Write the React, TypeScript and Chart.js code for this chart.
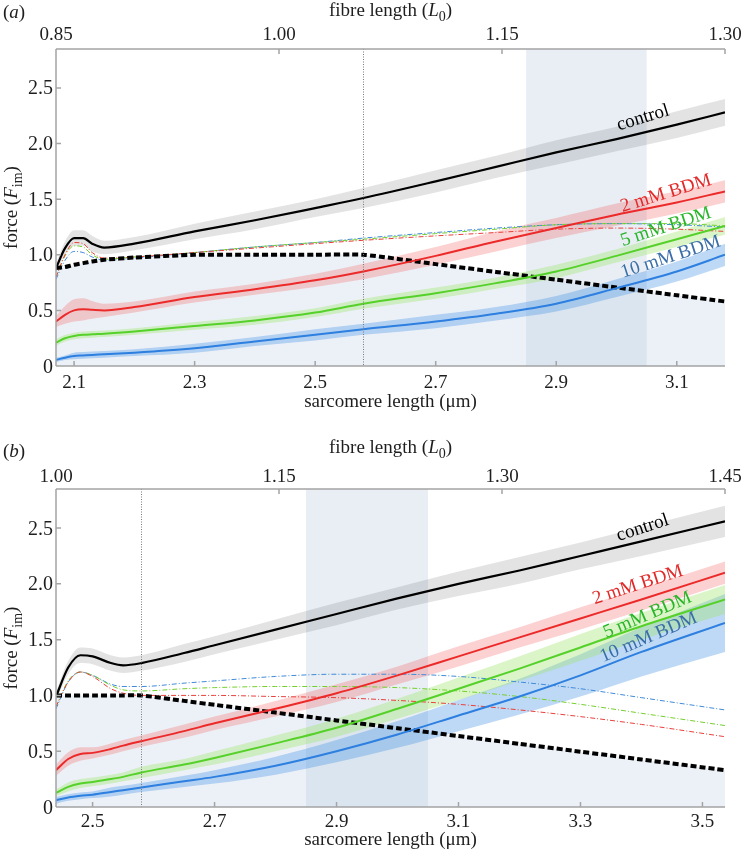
import React, { useEffect, useRef } from 'react';
import { Chart, registerables } from 'chart.js';
Chart.register(...registerables);

const SERIF = '"Liberation Serif", "DejaVu Serif", serif';
const FS = 19;

// ---------- shared ----------
const FORCE_TICKS = [0, 0.5, 1.0, 1.5, 2.0, 2.5];
const OPT_SL = 2.58;
const SHADE_SL = [2.85, 3.05];

// ---------- panel (a) ----------
const SL_A = [2.07, 2.085, 2.1, 2.115, 2.13, 2.15, 2.2, 2.3, 2.4, 2.5, 2.58, 2.7, 2.8, 2.9, 3.0, 3.1, 3.18];
const CONTROL_A = [0.88, 1.06, 1.15, 1.15, 1.1, 1.065, 1.1, 1.21, 1.31, 1.42, 1.51, 1.66, 1.79, 1.92, 2.04, 2.17, 2.28];
const CONTROL_A_SD = [0.04, 0.06, 0.07, 0.07, 0.07, 0.06, 0.06, 0.07, 0.08, 0.08, 0.09, 0.1, 0.1, 0.11, 0.11, 0.12, 0.12];
const BDM2_A = [0.4, 0.46, 0.5, 0.51, 0.505, 0.5, 0.53, 0.62, 0.69, 0.77, 0.85, 0.99, 1.12, 1.24, 1.36, 1.47, 1.57];
const BDM2_A_SD = [0.05, 0.08, 0.1, 0.1, 0.08, 0.06, 0.05, 0.05, 0.05, 0.06, 0.07, 0.08, 0.09, 0.09, 0.1, 0.1, 0.1];
const BDM5_A = [0.21, 0.25, 0.27, 0.28, 0.285, 0.29, 0.31, 0.36, 0.41, 0.48, 0.56, 0.655, 0.745, 0.85, 0.99, 1.14, 1.26];
const BDM5_A_SD = [0.03, 0.03, 0.03, 0.03, 0.03, 0.03, 0.03, 0.035, 0.04, 0.04, 0.045, 0.05, 0.05, 0.06, 0.06, 0.07, 0.08];
const BDM10_A = [0.055, 0.075, 0.09, 0.095, 0.1, 0.105, 0.12, 0.16, 0.22, 0.28, 0.33, 0.4, 0.47, 0.56, 0.7, 0.85, 1.0];
const BDM10_A_SD = [0.02, 0.02, 0.03, 0.03, 0.03, 0.03, 0.03, 0.04, 0.04, 0.05, 0.05, 0.06, 0.06, 0.07, 0.08, 0.09, 0.1];
const RATIO2_A = [0.8, 1.0, 1.11, 1.1, 1.02, 0.97, 0.98, 1.02, 1.06, 1.1, 1.13, 1.17, 1.2, 1.23, 1.24, 1.23, 1.21];
const RATIO5_A = [0.8, 0.99, 1.08, 1.07, 1.0, 0.96, 0.98, 1.02, 1.07, 1.11, 1.14, 1.19, 1.23, 1.27, 1.28, 1.28, 1.26];
const RATIO10_A = [0.78, 0.95, 1.03, 1.02, 0.98, 0.95, 0.97, 1.02, 1.07, 1.11, 1.15, 1.2, 1.24, 1.27, 1.28, 1.27, 1.25];
const FL_CURVE_A = [0.88, 0.89, 0.91, 0.925, 0.94, 0.955, 0.975, 1.0, 1.0, 1.0, 1.0, 0.916, 0.846, 0.776, 0.706, 0.636, 0.58];
const SL_TICKS_A = [2.1, 2.3, 2.5, 2.7, 2.9, 3.1];
const FIBRE_TICKS_A = [0.85, 1.0, 1.15, 1.3];

// ---------- panel (b) ----------
const SL_B = [2.44, 2.46, 2.48, 2.5, 2.53, 2.55, 2.58, 2.65, 2.7, 2.8, 2.9, 3.0, 3.1, 3.2, 3.3, 3.4, 3.537];
const CONTROL_B = [0.99, 1.25, 1.36, 1.35, 1.29, 1.27, 1.29, 1.38, 1.45, 1.59, 1.73, 1.87, 2.0, 2.12, 2.25, 2.38, 2.56];
const CONTROL_B_SD = [0.04, 0.06, 0.07, 0.07, 0.07, 0.07, 0.07, 0.08, 0.08, 0.09, 0.1, 0.1, 0.11, 0.12, 0.12, 0.13, 0.14];
const BDM2_B = [0.33, 0.43, 0.475, 0.485, 0.52, 0.55, 0.59, 0.68, 0.75, 0.88, 1.02, 1.18, 1.35, 1.52, 1.69, 1.86, 2.1];
const BDM2_B_SD = [0.05, 0.06, 0.06, 0.05, 0.05, 0.05, 0.05, 0.06, 0.06, 0.07, 0.08, 0.08, 0.09, 0.09, 0.1, 0.1, 0.1];
const BDM5_B = [0.127, 0.18, 0.21, 0.225, 0.25, 0.27, 0.31, 0.38, 0.44, 0.57, 0.71, 0.88, 1.06, 1.24, 1.43, 1.62, 1.86];
const BDM5_B_SD = [0.03, 0.04, 0.04, 0.04, 0.04, 0.04, 0.05, 0.05, 0.06, 0.07, 0.08, 0.09, 0.1, 0.11, 0.12, 0.12, 0.13];
const BDM10_B = [0.06, 0.085, 0.1, 0.11, 0.135, 0.15, 0.175, 0.23, 0.27, 0.37, 0.5, 0.65, 0.82, 0.99, 1.18, 1.39, 1.65];
const BDM10_B_SD = [0.03, 0.03, 0.03, 0.03, 0.04, 0.04, 0.04, 0.05, 0.06, 0.08, 0.1, 0.12, 0.14, 0.16, 0.19, 0.22, 0.26];
const RATIO2_B = [0.9, 1.12, 1.21, 1.17, 1.06, 1.02, 1.0, 1.0, 1.0, 0.99, 0.98, 0.955, 0.92, 0.87, 0.81, 0.74, 0.63];
const RATIO5_B = [0.9, 1.13, 1.21, 1.18, 1.09, 1.05, 1.04, 1.06, 1.07, 1.08, 1.08, 1.07, 1.04, 0.99, 0.92, 0.84, 0.73];
const RATIO10_B = [0.88, 1.12, 1.21, 1.18, 1.1, 1.08, 1.08, 1.11, 1.13, 1.17, 1.19, 1.19, 1.17, 1.12, 1.06, 0.98, 0.87];
const FL_CURVE_B = [1.0, 1.0, 1.0, 1.0, 1.0, 1.0, 1.0, 0.951, 0.916, 0.846, 0.776, 0.706, 0.636, 0.566, 0.496, 0.426, 0.33];
const SL_TICKS_B = [2.5, 2.7, 2.9, 3.1, 3.3, 3.5];
const FIBRE_TICKS_B = [1.0, 1.15, 1.3, 1.45];

const COLORS = {
  control: '#000000',
  bdm2: '#ec2a2a',
  bdm5: '#55d12a',
  bdm10: '#2d7fe0',
  r2: '#e8403a',
  r5: '#74cf2e',
  r10: '#3f8ad8',
  band0: 'rgba(0,0,0,0.11)',
  band2: 'rgba(245,90,90,0.28)',
  band5: 'rgba(160,230,110,0.38)',
  band10: 'rgba(70,145,230,0.35)',
  under: 'rgba(180,200,222,0.25)',
  shade: 'rgba(160,185,210,0.24)',
  axis: '#a4a4a4',
  text: '#1e1e1e',
  lbl2: '#e12a2a',
  lbl5: '#2ab52a',
  lbl10: '#3a6ea8',
};

const PANEL_A = {
  letter: 'a', height: 420, topH: 49, bottomH: 54, padRight: 17,
  sl: SL_A, slRange: [2.07, 3.18], fibreRange: [0.85, 1.3],
  slTicks: SL_TICKS_A, fibreTicks: FIBRE_TICKS_A,
  control: CONTROL_A, controlSd: CONTROL_A_SD,
  bdm2: BDM2_A, bdm2Sd: BDM2_A_SD, bdm5: BDM5_A, bdm5Sd: BDM5_A_SD, bdm10: BDM10_A, bdm10Sd: BDM10_A_SD,
  r2: RATIO2_A, r5: RATIO5_A, r10: RATIO10_A, fl: FL_CURVE_A,
  letterY: 18, topTitleY: 16, bottomTitleY: 407, topTickY: 40, bottomTickY: 388,
  labels: [
    { text: 'control', x: 3.044, y: 2.23, a: -17, c: COLORS.control },
    { text: '2 mM BDM', x: 3.082, y: 1.55, a: -17, c: COLORS.lbl2 },
    { text: '5 mM BDM', x: 3.082, y: 1.25, a: -18, c: COLORS.lbl5 },
    { text: '10 mM BDM', x: 3.09, y: 0.98, a: -18, c: COLORS.lbl10 },
  ],
};

const PANEL_B = {
  letter: 'b', height: 433, topH: 69, bottomH: 46, padRight: 17,
  sl: SL_B, slRange: [2.44, 3.537], fibreRange: [1.0, 1.45],
  slTicks: SL_TICKS_B, fibreTicks: FIBRE_TICKS_B,
  control: CONTROL_B, controlSd: CONTROL_B_SD,
  bdm2: BDM2_B, bdm2Sd: BDM2_B_SD, bdm5: BDM5_B, bdm5Sd: BDM5_B_SD, bdm10: BDM10_B, bdm10Sd: BDM10_B_SD,
  r2: RATIO2_B, r5: RATIO5_B, r10: RATIO10_B, fl: FL_CURVE_B,
  letterY: 37, topTitleY: 33, bottomTitleY: 425, topTickY: 62, bottomTickY: 407,
  labels: [
    { text: 'control', x: 3.402, y: 2.5, a: -18, c: COLORS.control },
    { text: '2 mM BDM', x: 3.394, y: 1.99, a: -18, c: COLORS.lbl2 },
    { text: '5 mM BDM', x: 3.41, y: 1.72, a: -23, c: COLORS.lbl5 },
    { text: '10 mM BDM', x: 3.412, y: 1.52, a: -23, c: COLORS.lbl10 },
  ],
};

type Seg = { t: string; it?: boolean; sub?: boolean };

function drawRich(ctx: CanvasRenderingContext2D, segs: Seg[], cx: number, by: number, size: number) {
  const f = (s: Seg) => `${s.it ? 'italic ' : ''}${s.sub ? Math.round(size * 0.72) : size}px ${SERIF}`;
  let w = 0;
  segs.forEach((s) => { ctx.font = f(s); w += ctx.measureText(s.t).width; });
  let xx = cx - w / 2;
  ctx.textAlign = 'left';
  ctx.textBaseline = 'alphabetic';
  segs.forEach((s) => {
    ctx.font = f(s);
    ctx.fillText(s.t, xx, by + (s.sub ? size * 0.28 : 0));
    xx += ctx.measureText(s.t).width;
  });
}

function makeConfig(p: any) {
  const pts = (ys: number[]) => p.sl.map((x: number, i: number) => ({ x, y: ys[i] }));
  const up = (m: number[], sd: number[]) => p.sl.map((x: number, i: number) => ({ x, y: m[i] + sd[i] }));
  const lo = (m: number[], sd: number[]) => p.sl.map((x: number, i: number) => ({ x, y: m[i] - sd[i] }));
  const base = { xAxisID: 'x', yAxisID: 'y', pointRadius: 0, pointHoverRadius: 0, cubicInterpolationMode: 'monotone' };
  const line = (data: any, color: string, extra: any = {}) => ({
    ...base, data, borderColor: color, backgroundColor: color, borderWidth: 2, fill: false, ...extra,
  });
  const band = (m: number[], sd: number[], color: string) => [
    { ...base, data: up(m, sd), borderColor: 'transparent', borderWidth: 0, backgroundColor: color, fill: '+1' },
    { ...base, data: lo(m, sd), borderColor: 'transparent', borderWidth: 0, fill: false },
  ];
  const datasets = [
    line(pts(p.control), COLORS.control, { borderWidth: 2.2 }),
    line(pts(p.bdm2), COLORS.bdm2),
    line(pts(p.bdm5), COLORS.bdm5),
    line(pts(p.bdm10), COLORS.bdm10),
    line(pts(p.fl), '#000', { borderWidth: 4, borderDash: [6, 3], cubicInterpolationMode: 'default', tension: 0.2 }),
    line(pts(p.r2), COLORS.r2, { borderWidth: 1, borderDash: [5, 2, 1, 2] }),
    line(pts(p.r5), COLORS.r5, { borderWidth: 1, borderDash: [5, 2, 1, 2] }),
    line(pts(p.r10), COLORS.r10, { borderWidth: 1, borderDash: [5, 2, 1, 2] }),
    ...band(p.control, p.controlSd, COLORS.band0),
    ...band(p.bdm2, p.bdm2Sd, COLORS.band2),
    ...band(p.bdm5, p.bdm5Sd, COLORS.band5),
    ...band(p.bdm10, p.bdm10Sd, COLORS.band10),
    { ...base, data: pts(p.fl), borderColor: 'transparent', borderWidth: 0, backgroundColor: COLORS.under, fill: 'origin', cubicInterpolationMode: 'default', tension: 0.2 },
  ];

  const zeroPad = (s: any) => { s.paddingLeft = 0; s.paddingRight = 0; s.paddingTop = 0; s.paddingBottom = 0; };

  const decor = {
    id: 'decor',
    beforeDatasetsDraw(chart: any) {
      const { ctx, chartArea: a, scales } = chart;
      const x = scales.x;
      ctx.save();
      const x0 = x.getPixelForValue(SHADE_SL[0]);
      const x1 = x.getPixelForValue(SHADE_SL[1]);
      ctx.fillStyle = COLORS.shade;
      ctx.fillRect(x0, a.top, x1 - x0, a.bottom - a.top);
      ctx.restore();
    },
    afterDatasetsDraw(chart: any) {
      const { ctx, chartArea: a, scales } = chart;
      const x = scales.x, y = scales.y;
      ctx.save();
      const xo = Math.round(x.getPixelForValue(OPT_SL)) + 0.5;
      ctx.strokeStyle = '#7a7a7a';
      ctx.lineWidth = 1;
      ctx.setLineDash([1, 1.5]);
      ctx.beginPath();
      ctx.moveTo(xo, a.top);
      ctx.lineTo(xo, a.bottom);
      ctx.stroke();
      ctx.setLineDash([]);
      p.labels.forEach((l: any) => {
        ctx.save();
        ctx.translate(x.getPixelForValue(l.x), y.getPixelForValue(l.y));
        ctx.rotate((l.a * Math.PI) / 180);
        ctx.font = `${FS}px ${SERIF}`;
        ctx.fillStyle = l.c;
        ctx.textAlign = 'center';
        ctx.textBaseline = 'middle';
        ctx.fillText(l.text, 0, 0);
        ctx.restore();
      });
      ctx.restore();
    },
    afterDraw(chart: any) {
      const { ctx, chartArea: a, scales } = chart;
      const x = scales.x, x2 = scales.x2, y = scales.y;
      ctx.save();
      ctx.strokeStyle = COLORS.axis;
      ctx.lineWidth = 1.5;
      ctx.beginPath();
      ctx.moveTo(a.left, a.top); ctx.lineTo(a.right, a.top);
      ctx.moveTo(a.left, a.top); ctx.lineTo(a.left, a.bottom);
      ctx.moveTo(a.left, a.bottom); ctx.lineTo(a.right, a.bottom);
      const tl = 5;
      p.slTicks.forEach((v: number) => { const px = x.getPixelForValue(v); ctx.moveTo(px, a.bottom); ctx.lineTo(px, a.bottom - tl); });
      p.fibreTicks.forEach((v: number) => { const px = x2.getPixelForValue(v); ctx.moveTo(px, a.top); ctx.lineTo(px, a.top + tl); });
      FORCE_TICKS.forEach((v: number) => { const py = y.getPixelForValue(v); ctx.moveTo(a.left, py); ctx.lineTo(a.left + tl, py); });
      ctx.stroke();

      // tick labels
      ctx.fillStyle = COLORS.text;
      ctx.font = `${FS}px ${SERIF}`;
      ctx.textAlign = 'center';
      ctx.textBaseline = 'alphabetic';
      p.slTicks.forEach((v: number) => ctx.fillText(v.toFixed(1), x.getPixelForValue(v), p.bottomTickY));
      p.fibreTicks.forEach((v: number) => ctx.fillText(v.toFixed(2), x2.getPixelForValue(v), p.topTickY));
      ctx.textAlign = 'right';
      ctx.font = `${FS + 1}px ${SERIF}`;
      FORCE_TICKS.forEach((v: number) => ctx.fillText(v === 0 ? '0' : v.toFixed(1), a.left - 3, y.getPixelForValue(v) + 6.5));

      // titles
      const cx = (a.left + a.right) / 2;
      drawRich(ctx, [{ t: 'fibre length (' }, { t: 'L', it: true }, { t: '0', sub: true }, { t: ')' }], cx, p.topTitleY, FS);
      drawRich(ctx, [{ t: 'sarcomere length (μm)' }], cx, p.bottomTitleY, FS);
      ctx.textAlign = 'left';
      ctx.font = `${FS}px ${SERIF}`;
      let lx = 3;
      ctx.fillText('(', lx, p.letterY); lx += ctx.measureText('(').width;
      ctx.font = `italic ${FS}px ${SERIF}`;
      ctx.fillText(p.letter, lx, p.letterY); lx += ctx.measureText(p.letter).width;
      ctx.font = `${FS}px ${SERIF}`;
      ctx.fillText(')', lx, p.letterY);

      ctx.save();
      ctx.translate(17, (a.top + a.bottom) / 2);
      ctx.rotate(-Math.PI / 2);
      drawRich(ctx, [{ t: 'force (' }, { t: 'F', it: true }, { t: 'im', sub: true }, { t: ')' }], 0, 0, FS);
      ctx.restore();
      ctx.restore();
    },
  };

  const hidden = { display: false };
  return {
    type: 'line',
    data: { datasets },
    plugins: [decor],
    options: {
      animation: false,
      responsive: false,
      devicePixelRatio: 1,
      events: [],
      layout: { padding: { left: 0, right: p.padRight, top: 0, bottom: 0 } },
      plugins: { legend: { display: false }, tooltip: { enabled: false }, filler: { propagate: false } },
      scales: {
        x: {
          type: 'linear', position: 'bottom', min: p.slRange[0], max: p.slRange[1],
          grid: hidden, border: hidden, ticks: hidden,
          afterFit: (s: any) => { s.height = p.bottomH; zeroPad(s); },
        },
        x2: {
          type: 'linear', position: 'top', min: p.fibreRange[0], max: p.fibreRange[1],
          grid: hidden, border: hidden, ticks: hidden,
          afterFit: (s: any) => { s.height = p.topH; zeroPad(s); },
        },
        y: {
          type: 'linear', position: 'left', min: 0, max: 2.85,
          grid: hidden, border: hidden, ticks: hidden,
          afterFit: (s: any) => { s.width = 56; zeroPad(s); },
        },
      },
    },
  };
}

function PanelChart({ p, top }: { p: any; top: number }) {
  const ref = useRef<HTMLCanvasElement>(null);
  useEffect(() => {
    const chart = new Chart(ref.current as HTMLCanvasElement, makeConfig(p) as any);
    return () => chart.destroy();
  }, [p]);
  return (
    <div style={{ position: 'absolute', left: 0, top, width: 742, height: p.height }}>
      <canvas ref={ref} width={742} height={p.height} style={{ display: 'block', width: 742, height: p.height }} />
    </div>
  );
}

export default function App() {
  return (
    <div style={{ position: 'absolute', left: 0, top: 0, width: 742, height: 853, background: '#ffffff' }}>
      <PanelChart p={PANEL_A} top={0} />
      <PanelChart p={PANEL_B} top={420} />
    </div>
  );
}
